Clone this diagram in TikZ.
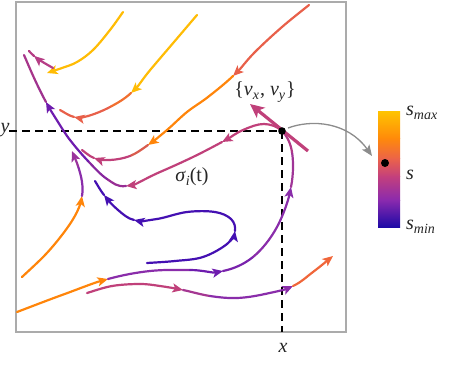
\documentclass[tikz,border=0pt]{standalone}
\usepackage{fontspec}
\setmainfont{Liberation Serif}
\newfontfamily\labfont{Liberation Serif}
\usetikzlibrary{arrows.meta,calc}
\definecolor{cY}{HTML}{FFBC05}
\definecolor{cO}{HTML}{FF850A}
\definecolor{cR}{HTML}{E8604A}
\definecolor{cRt}{HTML}{F0663A}
\definecolor{cM}{HTML}{C0407A}
\definecolor{cMd}{HTML}{B63E86}
\definecolor{cP}{HTML}{8A2DAA}
\definecolor{cV}{HTML}{6E1CAE}
\definecolor{cI}{HTML}{4410B2}
\definecolor{frm}{HTML}{ABABAB}
\definecolor{gra}{HTML}{8C8C8C}
\definecolor{txt}{HTML}{262626}
\definecolor{kA}{HTML}{FFC400}
\definecolor{kB}{HTML}{FF8A0A}
\definecolor{kC}{HTML}{EC6448}
\definecolor{kD}{HTML}{C4407C}
\definecolor{kE}{HTML}{8A2AAE}
\definecolor{kF}{HTML}{1E0AA6}
\newcommand\pts[2]{%
  \foreach \xx/\yy [count=\ii] in {#2}{%
    \pgfmathtruncatemacro\jj{\ii+1}%
    \coordinate (#1\ii) at (\xx,\yy);
    \coordinate (#1\jj) at (\xx,\yy);
    \ifnum\ii=1 \coordinate (#10) at (\xx,\yy);\fi
  }}
\newcommand\sg[4][]{%
  \pgfmathtruncatemacro\sgp{#3-1}%
  \pgfmathtruncatemacro\sgn{#3+1}%
  \pgfmathtruncatemacro\sgq{#3+2}%
  \draw[crv,#4,#1] (#2#3) .. controls ($(#2#3)+0.1667*(#2\sgn)-0.1667*(#2\sgp)$) and ($(#2\sgn)-0.1667*(#2\sgq)+0.1667*(#2#3)$) .. (#2\sgn);}
\newcommand\sbs[1]{\raisebox{-0.45ex}{\fontsize{14}{14}\selectfont #1}}
\tikzset{
  ah/.tip={Stealth[length=10.5pt,width=9pt,inset=2.5pt]},
  crv/.style={line width=2.2pt, line cap=round},
  arw/.style={-{ah}},
  dsh/.style={black, line width=1.5pt, dash pattern=on 8pt off 5pt},
  lbl/.style={inner sep=0pt, text=txt},
}
\begin{document}
\begin{tikzpicture}[x=1pt,y=-1pt,font=\labfont\fontsize{20}{23}\selectfont]
\useasboundingbox (0,0) rectangle (460,364);
\draw[frm, line width=1.2pt] (16,2) rectangle (346,332);
\coordinate (P) at (282,131);
\coordinate (yl) at (9,131);
\coordinate (xb) at (282,332);
\draw[dsh] (yl) -- (P);
\draw[dsh] (P) -- (xb);
% curve A (yellow, top)
\pts{A}{123/12, 110/30, 93/50, 77/62, 62/68, 47/73}
\sg{A}{1}{cY}\sg{A}{2}{cY}\sg{A}{3}{cY}\sg{A}{4}{cY}\sg[arw]{A}{5}{cY}
% short magenta
\pts{H}{53/68, 41/61, 34/56, 29/51}
\sg{H}{1}{cMd}\sg[arw]{H}{2}{cMd}\sg{H}{3}{cMd}
% curve B
\pts{B}{197/15, 174/42, 151/69, 131/93, 110/107, 88/116, 74/117, 60/110}
\sg{B}{1}{cY}\sg{B}{2}{cY}\sg[arw]{B}{3}{cY}\sg{B}{4}{cO!40!cR}\sg{B}{5}{cR}\sg[arw]{B}{6}{cR}\sg{B}{7}{cR}
% curve C
\pts{C}{309/5, 282/27, 255/52, 233/76, 208/97, 187/112, 167/130, 148/145, 130/156, 110/160, 94/158, 82/150}
\sg{C}{1}{cR}\sg{C}{2}{cR}\sg[arw]{C}{3}{cR}\sg{C}{4}{cO}\sg{C}{5}{cO}\sg{C}{6}{cO}\sg[arw]{C}{7}{cO}
\sg{C}{8}{cO!40!cM}\sg{C}{9}{cM}\sg[arw]{C}{10}{cM}\sg{C}{11}{cM}
% curve E
\pts{E}{22/277, 46/254, 65/231, 77/212, 82/196, 82/182, 78/166, 72/151}
\sg{E}{1}{cO}\sg{E}{2}{cO}\sg{E}{3}{cO}\sg[arw]{E}{4}{cO}\sg{E}{5}{cP}\sg{E}{6}{cP}\sg[arw]{E}{7}{cP!70!cM}
% curve F (indigo)
\pts{F}{147/263, 175/261, 203/257, 227/244, 235/231, 231/219, 215/212, 187/212, 157/219, 134/220, 118/210, 104/195, 95/181}
\sg{F}{1}{cI}\sg{F}{2}{cI}\sg{F}{3}{cI}\sg[arw]{F}{4}{cI}\sg{F}{5}{cI}\sg{F}{6}{cI}\sg{F}{7}{cI}\sg{F}{8}{cI}
\sg[arw]{F}{9}{cI}\sg{F}{10}{cI}\sg[arw]{F}{11}{cI}\sg{F}{12}{cI}
% curve G (bottom)
\pts{G}{87/293, 112/286, 140/284, 160/286, 183/290, 210/296, 237/298, 265/294, 293/286, 313/272, 333/256}
\sg{G}{1}{cM}\sg{G}{2}{cM}\sg{G}{3}{cM}\sg[arw]{G}{4}{cM}\sg{G}{5}{cM!50!cP}\sg{G}{6}{cP}\sg{G}{7}{cP}
\sg[arw]{G}{8}{cP}\sg{G}{9}{cRt}\sg[arw]{G}{10}{cRt}
% curve D (sigma)
\pts{D}{17/312, 62/295, 108/279, 150/271, 190/270, 223/271, 253/257, 277/227, 291/187, 292/152, 282/131, 264/124, 243/130, 222/142, 193/157, 160/172, 126/186, 107/179, 88/161, 70/140, 58/122, 46/102, 35/80, 24/55}
\sg{D}{1}{cO}\sg[arw]{D}{2}{cO}\sg{D}{3}{cP}\sg{D}{4}{cP}\sg[arw]{D}{5}{cV}\sg{D}{6}{cV!60!cP}\sg{D}{7}{cP}
\sg[arw]{D}{8}{cP}\sg{D}{9}{cP!60!cM}\sg{D}{10}{cP!30!cM}\sg{D}{11}{cM}\sg{D}{12}{cM}\sg[arw]{D}{13}{cM}
\sg{D}{14}{cM}\sg{D}{15}{cM}\sg[arw]{D}{16}{cM}\sg{D}{17}{cM!50!cV}\sg{D}{18}{cV!70!cM}\sg{D}{19}{cV}
\sg{D}{20}{cV}\sg[arw]{D}{21}{cV}\sg{D}{22}{cV!40!cM}\sg{D}{23}{cM!70!cV}
% velocity arrow
\coordinate (vs) at (308,151);
\coordinate (vt) at (250,104);
\draw[cM, line width=3.2pt, -{Stealth[length=14pt,width=13pt,inset=3.5pt]}] (vs) -- (vt);
\fill[black] (P) circle (3.8pt);
% colour bar
\shade[top color=kA, bottom color=kB] (378,111) rectangle (400,138.5);
\shade[top color=kB, bottom color=kC] (378,138) rectangle (400,158.5);
\shade[top color=kC, bottom color=kD] (378,158) rectangle (400,176.5);
\shade[top color=kD, bottom color=kE] (378,176) rectangle (400,200.5);
\shade[top color=kE, bottom color=kF] (378,200) rectangle (400,227);
\coordinate (cbd) at (385,163);
\fill[black] (cbd) circle (4pt);
\coordinate (ga) at (288,128);
\coordinate (gb) at (372,156);
\draw[gra, line width=1.3pt, -{Stealth[length=11pt,width=9pt,inset=2.5pt]}] (ga) .. controls (312,119) and (348,122) .. (gb);
% labels
\node[lbl] (ylab) at (5,130) {\textit{y}};
\node[lbl] (xlab) at (283,348) {\textit{x}};
\node[lbl] (vlab) at (265,92) {\{\textit{v}\sbs{\textit{x}}\kern1pt, \textit{v}\sbs{\textit{y}}\kern1pt\}};
\node[lbl] (siglab) at (192,177) {\textit{σ}\sbs{\textit{i}}(t)};
\node[lbl,anchor=west] (smax) at (406,113) {\textit{s}\sbs{\textit{max}}};
\node[lbl,anchor=west] (smid) at (406,175) {\textit{s}};
\node[lbl,anchor=west] (smin) at (406,227) {\textit{s}\sbs{\textit{min}}};
\end{tikzpicture}
\end{document}
